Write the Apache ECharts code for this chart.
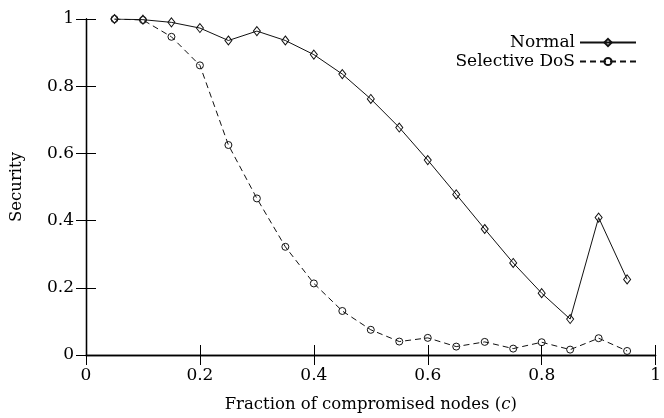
<!DOCTYPE html>
<html>
<head>
<meta charset="utf-8">
<script src="https://cdn.jsdelivr.net/npm/echarts@6/dist/echarts.min.js"></script>
<style>
  html, body { margin: 0; padding: 0; background: #fff; }
  #chart { width: 664px; height: 418px; }
</style>
</head>
<body>
<div id="chart"></div>
<script>
// Fraction of compromised nodes
const fractions = [0.05, 0.1, 0.15, 0.2, 0.25, 0.3, 0.35, 0.4, 0.45, 0.5,
                   0.55, 0.6, 0.65, 0.7, 0.75, 0.8, 0.85, 0.9, 0.95];
// Security under normal operation
const normalSecurity = [1.0, 0.998, 0.99, 0.973, 0.936, 0.964, 0.936, 0.894, 0.836, 0.762,
                        0.677, 0.580, 0.478, 0.375, 0.274, 0.184, 0.107, 0.409, 0.225];
// Security under selective denial of service
const dosSecurity = [1.0, 0.997, 0.947, 0.862, 0.625, 0.466, 0.322, 0.213, 0.131, 0.075,
                     0.040, 0.051, 0.025, 0.039, 0.019, 0.038, 0.016, 0.050, 0.012];
const tickValues = [0, 0.2, 0.4, 0.6, 0.8, 1];

const FONT = 'DejaVu Serif';
const FS = 17;
const pairs = (ys) => fractions.map((x, i) => [x, ys[i]]);
const fmt = (v) => String(tickValues.find(t => Math.abs(t - v) < 1e-9) ?? v);

const chart = echarts.init(document.getElementById('chart'));

const baseAxis = {
  type: 'value', min: 0, max: 1, interval: 0.2,
  axisLine: { show: true, lineStyle: { color: '#000', width: 1.3 } },
  axisTick: { show: true, inside: true, length: 10, lineStyle: { color: '#000', width: 1 } },
  splitLine: { show: false }
};

chart.setOption({
  animation: false,
  backgroundColor: '#fff',
  textStyle: { fontFamily: FONT, color: '#000' },
  grid: { left: 84.5, right: 5, top: 19, bottom: 63, containLabel: false },
  legend: {
    orient: 'vertical', right: 22, top: 29, align: 'right',
    itemWidth: 56, itemHeight: 9, itemGap: 2,
    textStyle: { fontFamily: FONT, fontSize: FS, color: '#000' },
    data: ['Normal', 'Selective DoS']
  },
  xAxis: [
    Object.assign({}, baseAxis, {
      position: 'bottom',
      name: 'Fraction of compromised nodes ({i|c})',
      nameLocation: 'middle', nameGap: 41,
      nameTextStyle: { fontFamily: FONT, fontSize: 16.5, color: '#000',
        rich: { i: { fontFamily: FONT, fontSize: 16.5, fontStyle: 'italic', color: '#000' } } },
      axisLabel: { fontFamily: FONT, fontSize: FS, color: '#000', margin: 12, formatter: fmt }
    }),
    Object.assign({}, baseAxis, { position: 'top', axisLabel: { show: false } })
  ],
  yAxis: [
    Object.assign({}, baseAxis, {
      position: 'left',
      name: 'Security', nameLocation: 'middle', nameGap: 61,
      nameTextStyle: { fontFamily: FONT, fontSize: 16.5, color: '#000' },
      axisLabel: { fontFamily: FONT, fontSize: FS, color: '#000', margin: 12, formatter: fmt }
    }),
    Object.assign({}, baseAxis, { position: 'right', axisLabel: { show: false } })
  ],
  series: [
    {
      name: 'Normal', type: 'line', data: pairs(normalSecurity),
      symbol: 'diamond', symbolSize: [7, 9],
      lineStyle: { color: '#111', width: 1 },
      itemStyle: { color: 'rgba(0,0,0,0)', borderColor: '#111', borderWidth: 1 }
    },
    {
      name: 'Selective DoS', type: 'line', data: pairs(dosSecurity),
      symbol: 'circle', symbolSize: 7,
      lineStyle: { color: '#111', width: 1, type: [6, 4] },
      itemStyle: { color: 'rgba(0,0,0,0)', borderColor: '#111', borderWidth: 1 }
    }
  ]
});
</script>
</body>
</html>
